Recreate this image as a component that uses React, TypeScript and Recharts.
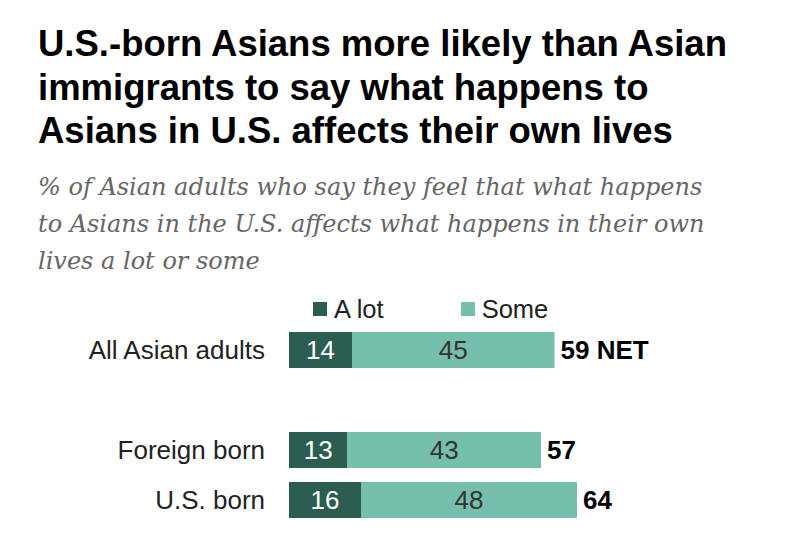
import React from "react";
import { BarChart, Bar, XAxis, YAxis, LabelList, Legend } from "recharts";

const categories = ["All Asian adults", "", "Foreign born", "U.S. born"];
const aLot = [14, null, 13, 16];
const some = [45, null, 43, 48];
const netLabels = ["59 NET", "", "57", "64"];

const DARK = "#2b5e50";
const LIGHT = "#76bfad";
const FONT = "'Liberation Sans', Arial, sans-serif";

const data = categories.map((name, i) => ({
  name,
  aLot: aLot[i],
  some: some[i],
  net: netLabels[i],
}));

const titleLines = [
  "U.S.-born Asians more likely than Asian",
  "immigrants to say what happens to",
  "Asians in U.S. affects their own lives",
];
const subtitleLines = [
  "% of Asian adults who say they feel that what happens",
  "to Asians in the U.S. affects what happens in their own",
  "lives a lot or some",
];

const LegendContent = (props: any) => {
  const { payload } = props;
  return (
    <div style={{ display: "flex", fontFamily: FONT, fontSize: 25.5, color: "#222", lineHeight: "28px" }}>
      {(payload || []).map((p: any, i: number) => (
        <div key={i} style={{ display: "flex", alignItems: "center", marginRight: i === 0 ? 77 : 0 }}>
          <span style={{ display: "inline-block", width: 14, height: 14, background: p.color, marginRight: 7 }} />
          <span>{p.value}</span>
        </div>
      ))}
    </div>
  );
};

export default function App() {
  return (
    <div style={{ position: "absolute", left: 0, top: 0, width: 800, height: 538, background: "#fff" }}>
      {titleLines.map((t, i) => (
        <div
          key={i}
          style={{
            position: "absolute",
            left: 38,
            top: 23 + i * 43.5,
            fontFamily: FONT,
            fontWeight: 700,
            fontSize: 36.5,
            lineHeight: "42px",
            color: "#000",
            whiteSpace: "nowrap",
          }}
        >
          {t}
        </div>
      ))}
      {subtitleLines.map((t, i) => (
        <div
          key={i}
          style={{
            position: "absolute",
            left: 38,
            top: 172 + i * 37,
            fontFamily: "'DejaVu Serif', Georgia, serif",
            fontStyle: "italic",
            fontSize: 24,
            lineHeight: "30px",
            color: "#666",
            whiteSpace: "nowrap",
          }}
        >
          {t}
        </div>
      ))}
      <div style={{ position: "absolute", left: 0, top: 0 }}>
        <BarChart
          width={800}
          height={538}
          data={data}
          layout="vertical"
          margin={{ top: 325, right: 61, bottom: 13, left: 0 }}
        >
          <XAxis type="number" domain={[0, 100]} hide />
          <YAxis
            type="category"
            dataKey="name"
            width={289}
            axisLine={false}
            tickLine={false}
            tickSize={0}
            tickMargin={24}
            tick={{ fill: "#222", fontSize: 26, fontFamily: FONT }}
          />
          <Legend
            verticalAlign="middle"
            align="center"
            content={<LegendContent />}
            wrapperStyle={{ top: 295, left: 313, width: 300 }}
          />
          <Bar dataKey="aLot" name="A lot" stackId="a" fill={DARK} barSize={36} isAnimationActive={false}>
            <LabelList dataKey="aLot" position="center" fill="#fff" fontSize={26} fontFamily={FONT} />
          </Bar>
          <Bar dataKey="some" name="Some" stackId="a" fill={LIGHT} barSize={36} isAnimationActive={false}>
            <LabelList dataKey="some" position="center" fill="#333" fontSize={26} fontFamily={FONT} />
            <LabelList dataKey="net" position="right" offset={6} fill="#000" fontSize={26} fontWeight={700} fontFamily={FONT} />
          </Bar>
        </BarChart>
      </div>
    </div>
  );
}
